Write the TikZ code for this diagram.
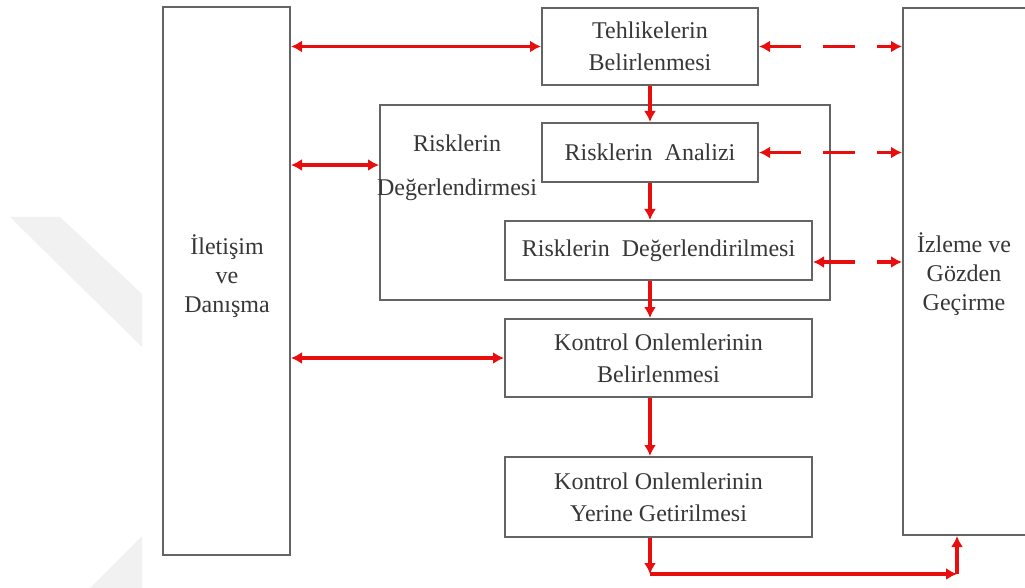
\documentclass[tikz,border=0pt]{standalone}
\usepackage{fontspec}
\setmainfont{Liberation Serif}
\usetikzlibrary{arrows.meta}
\definecolor{cred}{RGB}{232,14,14}
\definecolor{cbox}{RGB}{100,100,100}
\definecolor{ctext}{RGB}{55,55,55}
\definecolor{cwm}{RGB}{241,241,241}
\tikzset{
  boxnode/.style={draw=cbox, line width=2pt, inner sep=0pt, text=ctext, align=center,
    font=\fontsize{24}{32}\selectfont},
  redlink/.style={draw=cred, line width=3.5pt, {Latex[length=11pt,width=12pt]}-{Latex[length=11pt,width=12pt]}},
  redone/.style={draw=cred, line width=3.5pt, -{Latex[length=11pt,width=12pt]}},
  reddash/.style={redlink, dash pattern=on 32pt off 22pt},
  labeltext/.style={text=ctext, align=center, inner sep=0pt}
}
\begin{document}
\begin{tikzpicture}[x=1pt,y=-1pt]
\useasboundingbox (0,0) rectangle (1025,588);
\clip (0,0) rectangle (1025,588);
\fill[white] (0,0) rectangle (1025,588);
% faint watermark shapes
\fill[cwm] (10,217) -- (60,217) -- (142,294) -- (142,347) -- cycle;
\fill[cwm] (142,536) -- (142,588) -- (90,588) -- cycle;
% boxes
\node[boxnode, minimum width=127pt, minimum height=548pt] (ilet) at (226.5,281) {};
\node[labeltext, font=\fontsize{24}{29}\selectfont] (ilettxt) at (227,276) {İletişim\\ve\\Danışma};
\node[boxnode, minimum width=216pt, minimum height=77pt] (tehl) at (650,46.5) {Tehlikelerin\\Belirlenmesi};
\node[boxnode, minimum width=450pt, minimum height=195pt] (outer) at (605,202.5) {};
\node[labeltext, font=\fontsize{24}{44}\selectfont] (outertxt) at (457,168) {Risklerin\\Değerlendirmesi};
\node[boxnode, minimum width=216pt, minimum height=59pt] (anal) at (650,152.5) {Risklerin~~Analizi};
\node[boxnode, minimum width=307pt, minimum height=59pt] (degr) at (658.5,250.5) {Risklerin~~Değerlendirilmesi};
\node[boxnode, minimum width=307pt, minimum height=78pt] (kbel) at (658.5,358) {Kontrol Onlemlerinin\\Belirlenmesi};
\node[boxnode, minimum width=307pt, minimum height=80pt] (kyer) at (658.5,497) {Kontrol Onlemlerinin\\Yerine Getirilmesi};
\node[boxnode, minimum width=127pt, minimum height=527pt] (izle) at (966.5,271.5) {};
\node[labeltext, font=\fontsize{24}{29}\selectfont] (izletxt) at (964,274) {İzleme ve\\Gözden\\Geçirme};
% helper coordinates
\coordinate (col) at (650,0);
\coordinate (b1) at (650,574);
\coordinate (b2) at (957,574);
% links to left box
\draw[redlink] (tehl.west -| ilet.east) -- (tehl.west);
\draw[redlink] ([yshift=37.5pt]outer.west -| ilet.east) -- ([yshift=37.5pt]outer.west);
\draw[redlink] (kbel.west -| ilet.east) -- (kbel.west);
% main chain
\draw[redone] (tehl.south) -- (anal.north);
\draw[redone] (anal.south) -- (col |- degr.north);
\draw[redone] (col |- degr.south) -- (col |- kbel.north);
\draw[redone] (col |- kbel.south) -- (col |- kyer.north);
% dashed links to right box
\draw[reddash] (tehl.east) -- (tehl.east -| izle.west);
\draw[reddash] (anal.east) -- (anal.east -| izle.west);
\draw[reddash] ([yshift=-11.5pt]degr.east) -- ([yshift=-11.5pt]degr.east -| izle.west);
% bottom return
\draw[redone] (col |- kyer.south) -- (b1);
\draw[redone] (b1) -- (b2);
\draw[redone] (b2) -- (b2 |- izle.south);
\end{tikzpicture}
\end{document}
